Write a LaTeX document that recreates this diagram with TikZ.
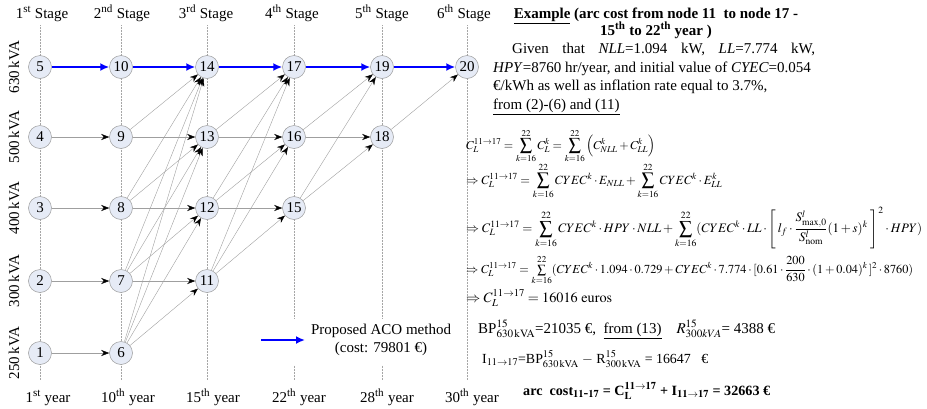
\documentclass[tikz,border=0pt]{standalone}
\usepackage{mathptmx}
\usepackage{fontspec}
\setmainfont{Liberation Serif}
\usepackage{graphicx}
\usetikzlibrary{arrows.meta}
\definecolor{nodefill}{RGB}{230,235,246}
\begin{document}
\begin{tikzpicture}[x=1pt,y=-1pt,font=\fontsize{15}{18.3}\selectfont,
 stnode/.style={circle,draw=gray!80,fill=nodefill,minimum size=23pt,inner sep=0pt,line width=0.5pt},
 arcedge/.style={draw=gray!75,line width=0.4pt,-{Stealth[length=8pt,width=6pt,black]}},
 best/.style={draw=blue,line width=2.4pt,-{Latex[length=9pt,width=8pt]}},
 vline/.style={draw=gray!70,densely dotted,line width=0.5pt},
 lbl/.style={anchor=base,inner sep=0pt},
 txt/.style={anchor=base west,inner sep=0pt},
 frm/.style={anchor=west,inner sep=0pt},
]
\useasboundingbox (0,0) rectangle (927,408);
% grid lines
\foreach \x in {40,121,207,294,382,467}{
  \coordinate (top\x) at (\x,25);
  \coordinate (bot\x) at (\x,380);
  \draw[vline] (top\x) -- (bot\x);
}
% stage labels
\node[lbl] (s1) at (42,18) {1\textsuperscript{st} Stage};
\node[lbl] (s2) at (122,18) {2\textsuperscript{nd} Stage};
\node[lbl] (s3) at (206,18) {3\textsuperscript{rd} Stage};
\node[lbl] (s4) at (292,18) {4\textsuperscript{th} Stage};
\node[lbl] (s5) at (382,18) {5\textsuperscript{th} Stage};
\node[lbl] (s6) at (464,18) {6\textsuperscript{th} Stage};
% year labels
\node[lbl] (y1) at (48,402) {1\textsuperscript{st} year};
\node[lbl] (y2) at (128,402) {10\textsuperscript{th} year};
\node[lbl] (y3) at (213,402) {15\textsuperscript{th} year};
\node[lbl] (y4) at (299,402) {22\textsuperscript{th} year};
\node[lbl] (y5) at (387,402) {28\textsuperscript{th} year};
\node[lbl] (y6) at (472,402) {30\textsuperscript{th} year};
% kVA labels
\node[rotate=90] (k630) at (14,67) {630\,kVA};
\node[rotate=90] (k500) at (14,137) {500\,kVA};
\node[rotate=90] (k400) at (14,208) {400\,kVA};
\node[rotate=90] (k300) at (14,281) {300\,kVA};
\node[rotate=90] (k250) at (14,353) {250\,kVA};
% legend
\node[fill=white,minimum width=200pt,minimum height=46pt,inner sep=0pt] (legbox) at (355,342) {};
\coordinate (legA) at (261,340);
\coordinate (legB) at (305,340);
\draw[best] (legA) -- (legB);
\node[align=center,inner sep=0pt] (legtext) at (381,340) {Proposed ACO method\\(cost: 79801 €)};
% nodes
\node[stnode] (n5) at (40,67) {5};
\node[stnode] (n4) at (40,137) {4};
\node[stnode] (n3) at (40,208) {3};
\node[stnode] (n2) at (40,281) {2};
\node[stnode] (n1) at (40,353) {1};
\node[stnode] (n10) at (121,67) {10};
\node[stnode] (n9) at (121,137) {9};
\node[stnode] (n8) at (121,208) {8};
\node[stnode] (n7) at (121,281) {7};
\node[stnode] (n6) at (121,353) {6};
\node[stnode] (n14) at (207,67) {14};
\node[stnode] (n13) at (207,137) {13};
\node[stnode] (n12) at (207,208) {12};
\node[stnode] (n11) at (207,281) {11};
\node[stnode] (n17) at (294,67) {17};
\node[stnode] (n16) at (294,137) {16};
\node[stnode] (n15) at (294,208) {15};
\node[stnode] (n19) at (382,67) {19};
\node[stnode] (n18) at (382,137) {18};
\node[stnode] (n20) at (467,67) {20};
% edges
\foreach \a/\b in {n1/n6,n2/n7,n3/n8,n4/n9,
  n6/n11,n6/n12,n6/n13,n6/n14,n7/n11,n7/n12,n7/n13,n7/n14,n8/n12,n8/n13,n8/n14,n9/n13,n9/n14,
  n11/n15,n11/n16,n11/n17,n12/n15,n12/n16,n12/n17,n13/n16,n13/n17,
  n15/n18,n15/n19,n16/n18,n16/n19,n18/n20}
  \draw[arcedge] (\a) -- (\b);
\foreach \a/\b in {n5/n10,n10/n14,n14/n17,n17/n19,n19/n20}
  \draw[best] (\a) -- (\b);
% right-hand text
\node[lbl] (t1) at (656,18) {\bfseries\underline{Example} (arc cost from node 11\ \ to node 17 -};
\node[lbl] (t2) at (656,35) {\bfseries 15\textsuperscript{th} to 22\textsuperscript{th} year )};
\node[txt] (p1) at (512,53) {\hbox to 303pt{Given\hfill that\hfill \textit{NLL}=1.094\hfill kW,\hfill \textit{LL}=7.774\hfill kW,}};
\node[txt] (p2) at (493,72) {\textit{HPY}=8760 hr/year, and initial value of \textit{CYEC}=0.054};
\node[txt] (p3) at (493,90) {€/kWh as well as inflation rate equal to 3.7\%,};
\node[txt] (p4) at (493,109) {\underline{from (2)-(6) and (11)}};
% formulas
\node[frm] (f1) at (466,146) {\resizebox{189pt}{!}{$\displaystyle C_L^{11\to17}=\sum_{k=16}^{22}C_L^k=\sum_{k=16}^{22}\left(C_{NLL}^k+C_{LL}^k\right)$}};
\node[frm] (f2) at (466,181) {\resizebox{256pt}{!}{$\displaystyle \Rightarrow C_L^{11\to17}=\sum_{k=16}^{22}CYEC^k\cdot E_{NLL}+\sum_{k=16}^{22}CYEC^k\cdot E_{LL}^k$}};
\node[frm] (f3) at (466,228) {\resizebox{456pt}{!}{$\displaystyle \Rightarrow C_L^{11\to17}=\sum_{k=16}^{22}CYEC^k\cdot HPY\cdot NLL+\sum_{k=16}^{22}(CYEC^k\cdot LL\cdot\left[\,l_f\cdot\frac{S^l_{\mathrm{max},0}}{S^l_{\mathrm{nom}}}(1+s)^k\ \right]^2\cdot HPY)$}};
\node[frm] (f4) at (466,270) {\resizebox{447pt}{!}{$\Rightarrow C_L^{11\to17}=\sum\limits_{k=16}^{22}(CYEC^k\cdot1.094\cdot0.729+CYEC^k\cdot7.774\cdot[0.61\cdot\displaystyle\frac{200}{630}\cdot(1+0.04)^k\,]^2\cdot8760)$}};
\node[frm] (f5) at (466,298) {\resizebox{146pt}{!}{$\Rightarrow C_L^{11\to17}=16016\ \mathrm{euros}$}};
% bottom lines
\node[txt] (b1) at (478,333) {\resizebox{297pt}{!}{BP$^{15}_{\mathrm{630\,kVA}}$=21035 €,\ \ \underline{from (13)}\quad $R^{15}_{300kVA}$= 4388 €}};
\node[txt] (b2) at (482,363) {\resizebox{226pt}{!}{I$_{11\rightarrow17}$=BP$^{15}_{\mathrm{630\,kVA}}$ $-$ R$^{15}_{\mathrm{300\,kVA}}$ = 16647\ \ \ €}};
\node[txt] (b3) at (523,395) {\resizebox{247pt}{!}{\bfseries arc\ \ cost$_{\mathbf{11\mbox{-}17}}$ = C$^{\mathbf{11\to17}}_{\mathbf{L}}$ + I$_{\mathbf{11\to17}}$ = 32663 €}};
\end{tikzpicture}
\end{document}
